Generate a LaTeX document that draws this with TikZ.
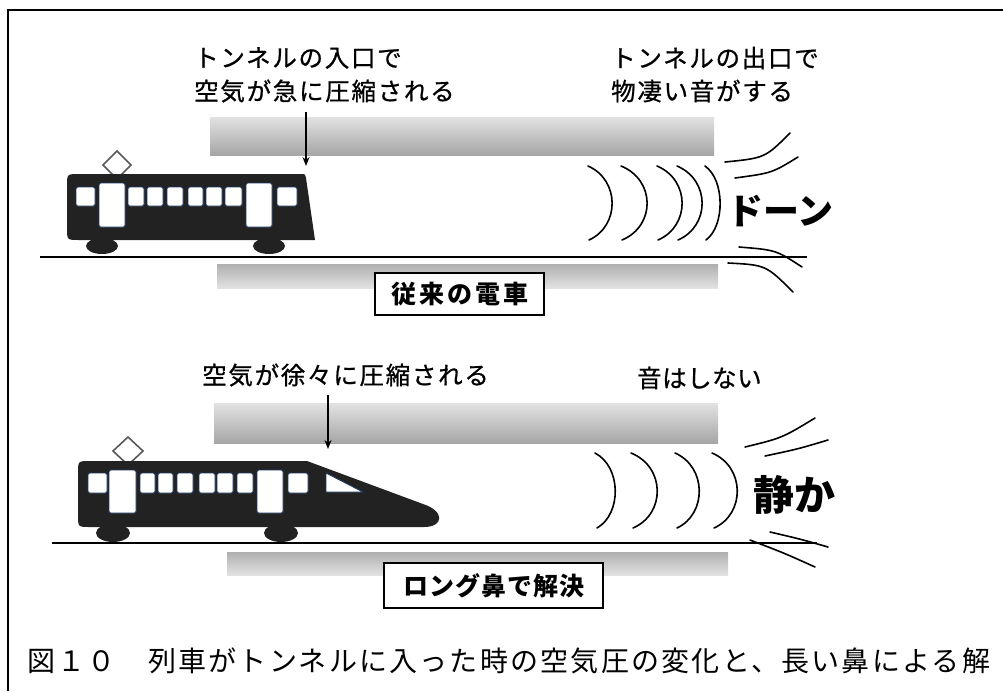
\documentclass[tikz,border=0pt]{standalone}
\usepackage{fontspec}
\newfontfamily\jp{Noto Sans CJK JP}
\newfontfamily\jpm[FakeBold=0.8]{Noto Sans CJK JP}
\usetikzlibrary{arrows.meta}
\definecolor{trainbody}{HTML}{222222}
\definecolor{winedge}{HTML}{1F3864}
\definecolor{barlight}{HTML}{E2E2E2}
\definecolor{bardark}{HTML}{A6A6A6}
\begin{document}
\begin{tikzpicture}[x=1pt,y=-1pt,
  lbl/.style={anchor=west,inner sep=0pt,
    font=\jpm\fontsize{24.5}{26}\selectfont\addfontfeature{LetterSpace=7}},
  bigword/.style={anchor=west,inner sep=0pt,font=\jp\bfseries\fontsize{#1}{#1}\selectfont},
  tag/.style={draw=black,line width=1.5pt,fill=white,inner sep=0pt,
    font=\jp\bfseries\fontsize{25}{28}\selectfont},
  pointer/.style={line width=2pt,-{Stealth[length=9pt,width=7pt]}},
  wave/.style={line width=1.6pt,line cap=round},
  ray/.style={line width=1.6pt,line cap=round},
  rail/.style={line width=2.6pt},
  win/.style={fill=white,draw=winedge,line width=0.9pt,rounded corners=1.5pt},
  panto/.style={fill=white,draw=black!65,line width=1.6pt},
  barup/.style={top color=barlight,bottom color=bardark},
  bardown/.style={top color=bardark!90,bottom color=barlight},
]
\useasboundingbox (0,0) rectangle (1003,691);

% frame
\draw[line width=2pt] (1003,10) -- (8,10) -- (8,691);

% ================= conventional train =================
\node[lbl] (entryA) at (194,58) {トンネルの入口で};
\node[lbl] (entryB) at (194,91) {空気が急に圧縮される};
\node[lbl] (exitA) at (611,58) {トンネルの出口で};
\node[lbl] (exitB) at (611,91) {物凄い音がする};

% tunnel walls
\shade[barup] (210,117) rectangle (714,155);
\shade[bardown] (217,264) rectangle (718,288);

% pressure arrow
\coordinate (pA1) at (306,112);
\coordinate (pA2) at (306,166);
\draw[pointer] (pA1) -- (pA2);

% pantograph, wheels, body
\filldraw[panto] (117,151) -- (131,165) -- (117,179) -- (103,165) -- cycle;
\fill[trainbody] (102,246) ellipse [x radius=16pt,y radius=8pt];
\fill[trainbody] (269,246) ellipse [x radius=16pt,y radius=8pt];
\fill[trainbody] (79,174) -- (301,174) .. controls (305,174) .. (306,178)
  -- (315,240) -- (79,240) .. controls (67,240) .. (67,228)
  -- (67,186) .. controls (67,174) .. (79,174) -- cycle;
% windows and doors
\foreach \a/\b in {76/95,128/144,147/163,167/183,188/203,206/222,225/242,277/297}
  \draw[win] (\a,187) rectangle (\b,206);
\foreach \a/\b in {99/125,246/272}
  \draw[win] (\a,183) rectangle (\b,227);

\draw[rail] (40,257) -- (807,257);

% pressure waves leaving the tunnel
\foreach \s/\b in {588/612,621/647,657/682,677/702,705/720}
  \draw[wave] (\s,166) .. controls ({\s+4*(\b-\s)/3},180) and ({\s+4*(\b-\s)/3},226) .. (\s+1,240);
\draw[ray] (725,162) .. controls (765,158) .. (790,133);
\draw[ray] (735,178) .. controls (772,173) .. (798,157);
\draw[ray] (739,247) .. controls (776,250) .. (802,267);
\draw[ray] (728,263) .. controls (766,265) .. (793,292);
\node[bigword=36] (boom) at (727,211) {ドーン};

\node[tag,minimum width=169pt,minimum height=42pt] (tagA) at (459.5,294)
  {\addfontfeature{LetterSpace=12}従来の電車};

% ================= long-nose train =================
\node[lbl] (gradual) at (202,375) {空気が徐々に圧縮される};
\node[lbl] (silent) at (637,378) {\addfontfeature{LetterSpace=2}音はしない};

\shade[barup] (214,403) rectangle (718,443);
\shade[bardown] (227,552) rectangle (728,575);

\coordinate (pB1) at (328,395);
\coordinate (pB2) at (328,449);
\draw[pointer] (pB1) -- (pB2);

\filldraw[panto] (128,437) -- (143,451) -- (128,465) -- (113,451) -- cycle;
\fill[trainbody] (113,533) ellipse [x radius=17pt,y radius=9pt];
\fill[trainbody] (281,533) ellipse [x radius=17pt,y radius=9pt];
\fill[trainbody] (90,461) -- (307,461) -- (423,504)
  .. controls (445,511) and (444,527) .. (424,527)
  -- (90,527) .. controls (78,527) .. (78,515)
  -- (78,473) .. controls (78,461) .. (90,461) -- cycle;
\foreach \a/\b in {88/107,140/155,158/173,177/193,199/215,217/233,237/253,288/308}
  \draw[win] (\a,473) rectangle (\b,493);
\foreach \a/\b in {109/136,257/283}
  \draw[win] (\a,470) rectangle (\b,513);
\draw[win,rounded corners=0.5pt] (326,473) -- (363,492) -- (326,492) -- cycle;

\draw[rail] (52,543) -- (817,543);

\foreach \s/\b in {595/615,631/657,675/699,712/737}
  \draw[wave] (\s,453) .. controls ({\s+4*(\b-\s)/3},467) and ({\s+4*(\b-\s)/3},514) .. (\s+2,528);
\draw[ray] (745,447) .. controls (782,438) .. (815,418);
\draw[ray] (765,456) .. controls (798,449) .. (828,440);
\draw[ray] (770,532) .. controls (800,539) .. (828,547);
\draw[ray] (750,540) .. controls (784,553) .. (815,567);
\node[bigword=41] (quiet) at (753,495) {静か};

\node[tag,minimum width=219pt,minimum height=45pt] (tagB) at (493.5,585.5)
  {\addfontfeature{LetterSpace=4}ロング鼻で解決};

% caption
\node[anchor=west,inner sep=0pt,
  font=\jp\fontsize{28}{30}\selectfont\addfontfeature{LetterSpace=8}]
  (caption) at (27,661) {図１０　列車がトンネルに入った時の空気圧の変化と、長い鼻による解};
\end{tikzpicture}
\end{document}
